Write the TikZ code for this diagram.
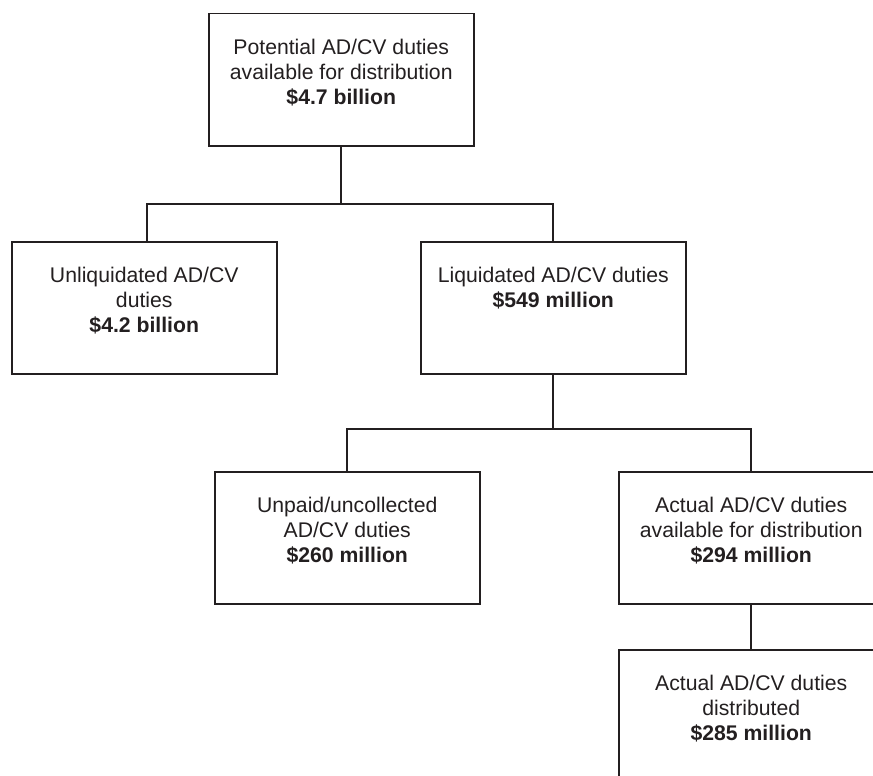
\documentclass[tikz,border=0pt]{standalone}
\usepackage{fontspec}
\setmainfont{Liberation Sans}
\definecolor{ink}{RGB}{35,31,32}
\begin{document}
\begin{tikzpicture}[x=1pt,y=-1pt,
  box/.style={draw=ink, line width=1.5pt, minimum width=265pt, minimum height=132pt, inner sep=0pt, anchor=north west},
  txt/.style={anchor=base, inner sep=0pt, text=ink, font=\fontsize{21.2}{25}\selectfont},
  link/.style={draw=ink, line width=2.4pt, line join=miter}]
\clip (0,0) rectangle (873,776);
\fill[white] (0,0) rectangle (873,776);
% boxes
\node[box] (top) at (208,13) {};
\node[box] (unliq) at (11,241) {};
\node[box] (liq) at (420,241) {};
\node[box] (unpaid) at (214,471) {};
\node[box] (actual) at (618,471) {};
\node[box] (dist) at (618,649) {};
% texts
\node[txt] (topt) at ([yshift=-41.5pt]top.north) {\begin{tabular}[t]{@{}c@{}}Potential AD/CV duties\\available for distribution\\\textbf{\$4.7 billion}\end{tabular}};
\node[txt] (unliqt) at ([yshift=-41.5pt]unliq.north) {\begin{tabular}[t]{@{}c@{}}Unliquidated AD/CV\\duties\\\textbf{\$4.2 billion}\end{tabular}};
\node[txt] (liqt) at ([yshift=-41.5pt]liq.north) {\begin{tabular}[t]{@{}c@{}}Liquidated AD/CV duties\\\textbf{\$549 million}\end{tabular}};
\node[txt] (unpaidt) at ([yshift=-41.5pt]unpaid.north) {\begin{tabular}[t]{@{}c@{}}Unpaid/uncollected\\AD/CV duties\\\textbf{\$260 million}\end{tabular}};
\node[txt] (actualt) at ([yshift=-41.5pt]actual.north) {\begin{tabular}[t]{@{}c@{}}Actual AD/CV duties\\available for distribution\\\textbf{\$294 million}\end{tabular}};
\node[txt] (distt) at ([yshift=-41.5pt]dist.north) {\begin{tabular}[t]{@{}c@{}}Actual AD/CV duties\\distributed\\\textbf{\$285 million}\end{tabular}};
% connectors
\coordinate (j1) at (top.south |- 0,204);
\coordinate (j2) at (liq.south |- 0,429);
\draw[link] (top.south) -- (j1);
\draw[link] ([xshift=3pt]unliq.north) -- ([xshift=3pt]unliq.north |- j1) -- (liq.north |- j1) -- (liq.north);
\draw[link] (liq.south) -- (j2);
\draw[link] (unpaid.north) -- (unpaid.north |- j2) -- (actual.north |- j2) -- (actual.north);
\draw[link] (actual.south) -- (dist.north);
\end{tikzpicture}
\end{document}
